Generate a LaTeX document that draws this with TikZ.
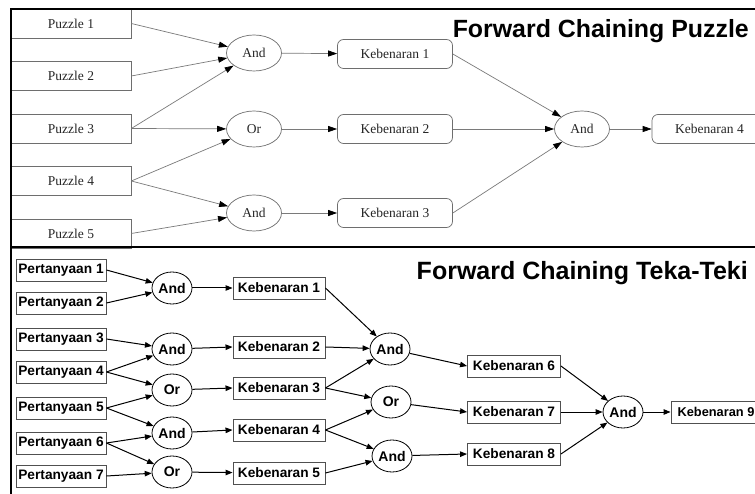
\documentclass[tikz,border=0pt]{standalone}
\usepackage{fontspec}
\setmainfont{Liberation Serif}
\newfontfamily\arialf{Liberation Sans}
\usetikzlibrary{arrows.meta,shapes.geometric}
\definecolor{edgegray}{HTML}{7A7A7A}
\definecolor{boxgray}{HTML}{6E6E6E}
\definecolor{txtgray}{HTML}{262626}
\definecolor{bboxgray}{HTML}{505050}
\begin{document}
\begin{tikzpicture}[x=1pt,y=-1pt,
  puz/.style={draw=boxgray, line width=0.7pt, minimum width=120pt, minimum height=29pt, inner sep=0pt, font=\fontsize{13.5}{15}\selectfont, text=txtgray},
  keb/.style={puz, rounded corners=6pt, minimum width=115pt},
  gate/.style={ellipse, draw=boxgray, line width=0.7pt, minimum width=55pt, minimum height=36pt, inner sep=0pt, font=\fontsize{13.5}{15}\selectfont, text=txtgray},
  tedge/.style={draw=edgegray, line width=0.7pt, -{Triangle[length=9pt,width=6pt,color=black]}},
  pbox/.style={draw=bboxgray, line width=0.9pt, minimum height=22pt, inner sep=0pt, font=\arialf\bfseries\fontsize{13.7}{16}\selectfont},
  bgate/.style={ellipse, draw=black, line width=0.8pt, minimum width=40pt, minimum height=32pt, inner sep=0pt, font=\arialf\bfseries\fontsize{14}{16}\selectfont},
  bedge/.style={draw=black, line width=1pt, -{Triangle[length=7pt,width=5.5pt]}},
  ttl/.style={font=\arialf\bfseries\fontsize{24.9}{28}\selectfont, anchor=base east, inner sep=0pt}
]
\useasboundingbox (0,0) rectangle (755,494);
\clip (0,0) rectangle (755,494);
\fill[white] (0,0) rectangle (755,494);

% ---------- top panel ----------
\node[puz] (p1) at (71,23.5) {Puzzle 1};
\node[puz] (p2) at (71,76) {Puzzle 2};
\node[puz] (p3) at (71,128.5) {Puzzle 3};
\node[puz] (p4) at (71,181) {Puzzle 4};
\node[puz] (p5) at (71,233.5) {Puzzle 5};

\node[gate] (ta1) at (254,53) {And};
\node[gate] (tor) at (254,129) {Or};
\node[gate] (ta3) at (254,213) {And};

\node[keb] (tk1) at (395,54) {Kebenaran 1};
\node[keb] (tk2) at (395,129) {Kebenaran 2};
\node[keb] (tk3) at (395,213) {Kebenaran 3};

\node[gate] (taf) at (582,129) {And};
\node[keb] (tk4) at (709.5,129) {Kebenaran 4};

\draw[tedge] (p1.east) -- (ta1);
\draw[tedge] (p2.east) -- (ta1);
\draw[tedge] (p3.east) -- (ta1);
\draw[tedge] (p3.east) -- (tor);
\draw[tedge] (p4.east) -- (tor);
\draw[tedge] (p4.east) -- (ta3);
\draw[tedge] (p5.east) -- (ta3);
\draw[tedge] (ta1) -- (tk1);
\draw[tedge] (tor) -- (tk2);
\draw[tedge] (ta3) -- (tk3);
\draw[tedge] (tk1.east) -- (taf);
\draw[tedge] (tk2.east) -- (taf);
\draw[tedge] (tk3.east) -- (taf);
\draw[tedge] (taf) -- (tk4);

\node[ttl] (t1) at (749,37.5) {Forward Chaining Puzzle};

% frame
\draw[line width=1.5pt] (756,9) -- (11,9) -- (11,495);
\draw[line width=2.6pt] (10,247) -- (756,247);

% ---------- bottom panel ----------
\node[pbox, minimum width=90pt] (q1) at (61,270) {Pertanyaan 1};
\node[pbox, minimum width=90pt] (q2) at (61,303) {Pertanyaan 2};
\node[pbox, minimum width=90pt] (q3) at (61,339) {Pertanyaan 3};
\node[pbox, minimum width=90pt] (q4) at (61,372) {Pertanyaan 4};
\node[pbox, minimum width=90pt] (q5) at (61,408) {Pertanyaan 5};
\node[pbox, minimum width=90pt] (q6) at (61,443) {Pertanyaan 6};
\node[pbox, minimum width=90pt] (q7) at (61,476) {Pertanyaan 7};

\node[bgate] (ba1) at (172,288) {And};
\node[bgate] (ba2) at (172,349) {And};
\node[bgate] (bo1) at (172,390) {Or};
\node[bgate] (ba3) at (172,433) {And};
\node[bgate] (bo2) at (172,472) {Or};

\node[pbox, minimum width=92pt] (bk1) at (279,288) {Kebenaran 1};
\node[pbox, minimum width=92pt] (bk2) at (279,347) {Kebenaran 2};
\node[pbox, minimum width=92pt] (bk3) at (279,388) {Kebenaran 3};
\node[pbox, minimum width=92pt] (bk4) at (279,430) {Kebenaran 4};
\node[pbox, minimum width=92pt] (bk5) at (279,473) {Kebenaran 5};

\node[bgate] (bc1) at (390,349) {And};
\node[bgate] (bc2) at (391,402) {Or};
\node[bgate] (bc3) at (392,456) {And};

\node[pbox, minimum width=93pt] (bk6) at (514,366) {Kebenaran 6};
\node[pbox, minimum width=93pt] (bk7) at (514,412) {Kebenaran 7};
\node[pbox, minimum width=93pt] (bk8) at (514,454) {Kebenaran 8};

\node[bgate] (bf) at (623,412) {And};
\node[pbox, minimum width=90pt, font=\arialf\bfseries\fontsize{12.8}{15}\selectfont] (bk9) at (716,412) {Kebenaran 9};

\draw[bedge] (q1.east) -- (ba1);
\draw[bedge] (q2.east) -- (ba1);
\draw[bedge] (q3.east) -- (ba2);
\draw[bedge] (q4.east) -- (ba2);
\draw[bedge] (q4.east) -- (bo1);
\draw[bedge] (q5.east) -- (bo1);
\draw[bedge] (q5.east) -- (ba3);
\draw[bedge] (q6.east) -- (ba3);
\draw[bedge] (q6.east) -- (bo2);
\draw[bedge] (q7.east) -- (bo2);

\draw[bedge] (ba1) -- (bk1);
\draw[bedge] (ba2) -- (bk2.west);
\draw[bedge] (bo1) -- (bk3.west);
\draw[bedge] (ba3) -- (bk4.west);
\draw[bedge] (bo2) -- (bk5);

\draw[bedge] (bk1.east) -- (bc1);
\draw[bedge] (bk2.east) -- (bc1);
\draw[bedge] (bk3.east) -- (bc1);
\draw[bedge] (bk3.east) -- (bc2);
\draw[bedge] (bk4.east) -- (bc2);
\draw[bedge] (bk4.east) -- (bc3);
\draw[bedge] (bk5.east) -- (bc3);

\draw[bedge] (bc1) -- (bk6.west);
\draw[bedge] (bc2) -- (bk7.west);
\draw[bedge] (bc3) -- (bk8.west);

\draw[bedge] (bk6.east) -- (bf);
\draw[bedge] (bk7.east) -- (bf);
\draw[bedge] (bk8.east) -- (bf);
\draw[bedge] (bf) -- (bk9);

\node[ttl, font=\arialf\bfseries\fontsize{25}{28}\selectfont] (t2) at (748,280) {Forward Chaining Teka-Teki};
\end{tikzpicture}
\end{document}
